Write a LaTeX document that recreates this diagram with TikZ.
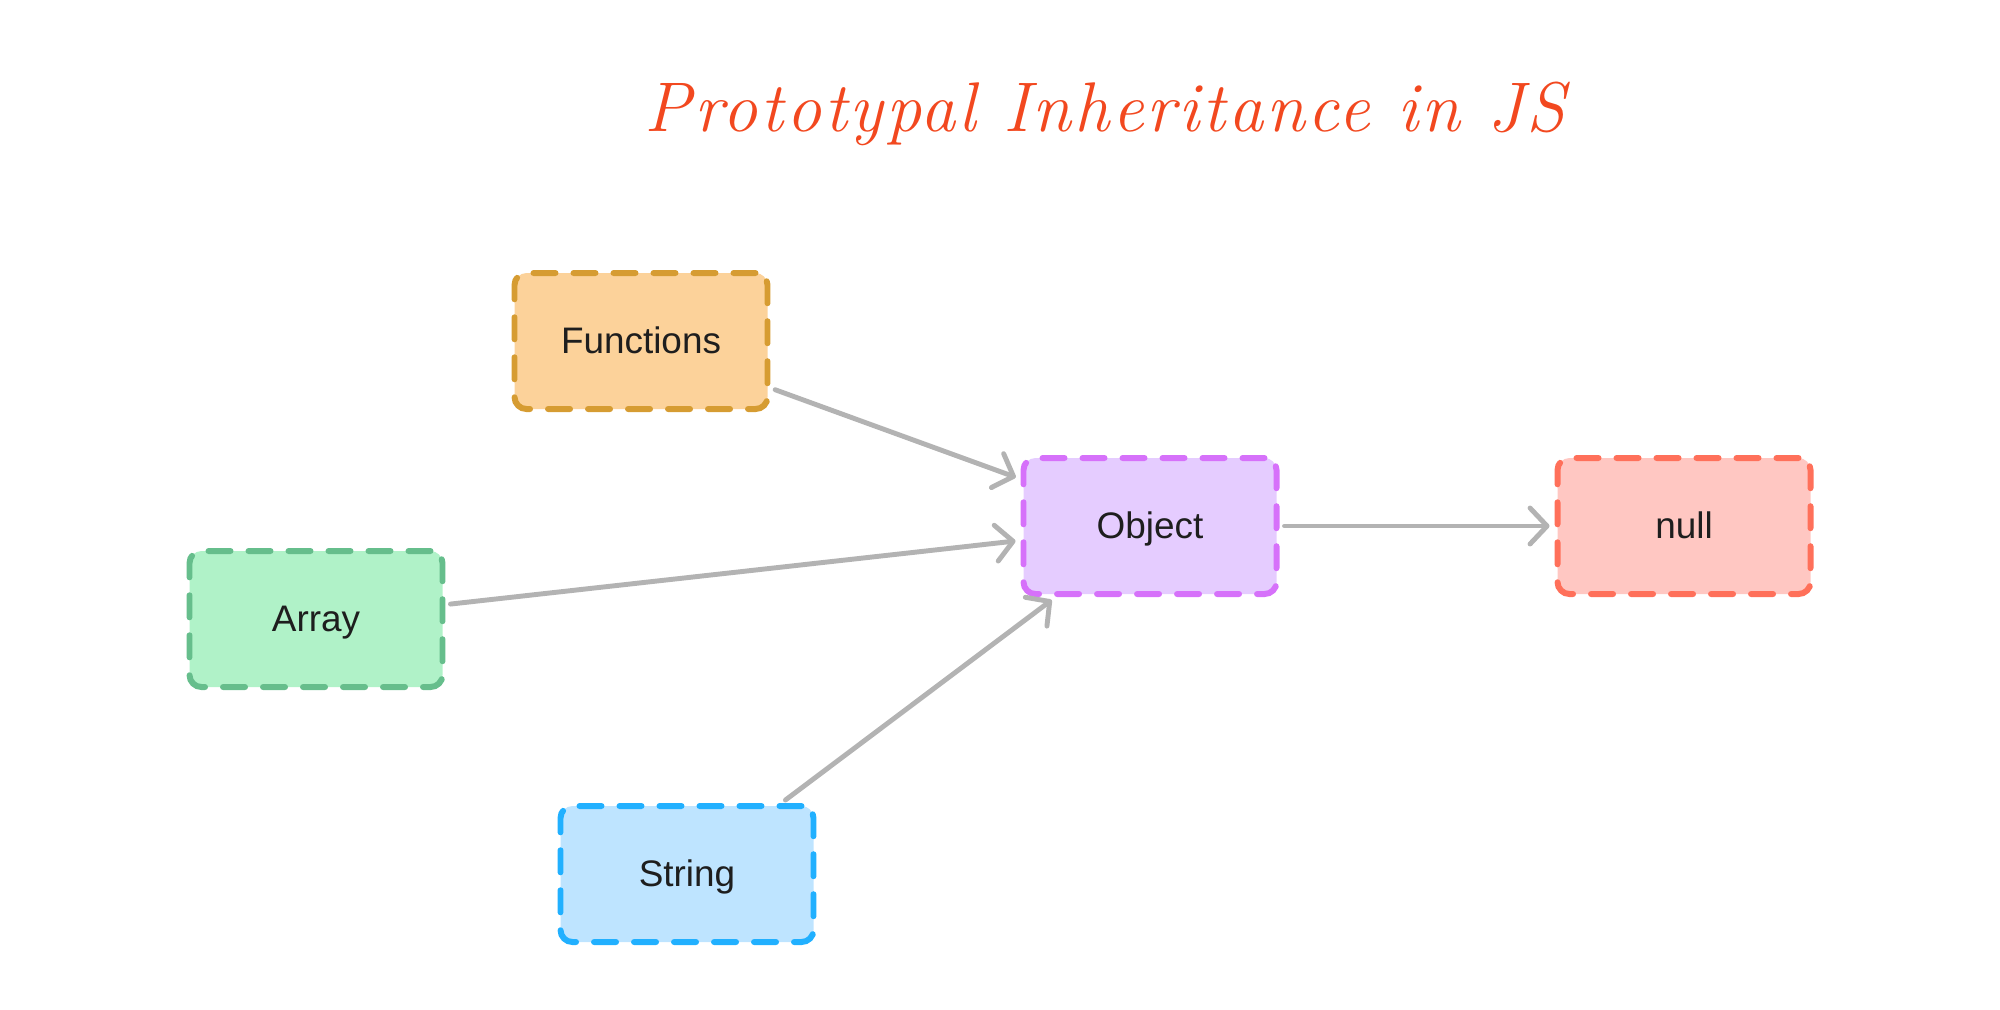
\documentclass[tikz,border=0pt]{standalone}
\usepackage{fontspec}
\setmainfont{Liberation Sans}
\newfontfamily\titlefont[LetterSpace=4]{Latin Modern Roman}
\usetikzlibrary{arrows.meta}
\definecolor{inktext}{HTML}{1E1E1E}
\definecolor{titlered}{HTML}{F2481F}
\definecolor{linkgray}{HTML}{B3B3B3}
\definecolor{funfill}{HTML}{FCD29A}
\definecolor{fundraw}{HTML}{D69C32}
\definecolor{objfill}{HTML}{E5CCFF}
\definecolor{objdraw}{HTML}{D671FA}
\definecolor{nulfill}{HTML}{FFC7C2}
\definecolor{nuldraw}{HTML}{FF705A}
\definecolor{arrfill}{HTML}{B0F2C8}
\definecolor{arrdraw}{HTML}{66BE8C}
\definecolor{strfill}{HTML}{BEE4FF}
\definecolor{strdraw}{HTML}{21B0FF}
\tikzset{
  protobox/.style={rectangle, rounded corners=0.12cm, line width=1.7pt,
    dash pattern=on 0.22cm off 0.18cm, line cap=round,
    minimum width=2.53cm, minimum height=1.36cm,
    text height=0.73em, text depth=0pt,
    font=\fontsize{10.5}{12}\selectfont, text=inktext},
  link/.style={draw=linkgray, line width=1.4pt, line cap=round,
    -{Straight Barb[length=0.17cm, width=0.36cm, line cap=round, line join=round]},
    shorten >=0.05cm, shorten <=0.05cm}
}
\begin{document}
\begin{tikzpicture}
\useasboundingbox (0,0) rectangle (20,-10.09);
% title
\node (title) at (11.05,-1.14) {\titlefont\itshape\fontsize{20}{24}\selectfont\color{titlered}Prototypal Inheritance in JS};
% boxes
\node[protobox, draw=fundraw, fill=funfill] (fun) at (6.41,-3.41) {Functions};
\node[protobox, draw=objdraw, fill=objfill] (obj) at (11.50,-5.26) {Object};
\node[protobox, draw=nuldraw, fill=nulfill] (nul) at (16.84,-5.26) {null};
\node[protobox, draw=arrdraw, fill=arrfill] (arr) at (3.16,-6.19) {Array};
\node[protobox, draw=strdraw, fill=strfill] (str) at (6.87,-8.74) {String};
% links
\draw[link] (fun) -- (obj);
\draw[link] (arr) -- (obj);
\draw[link] (str) -- (obj);
\draw[link] (obj) -- (nul);
\end{tikzpicture}
\end{document}
